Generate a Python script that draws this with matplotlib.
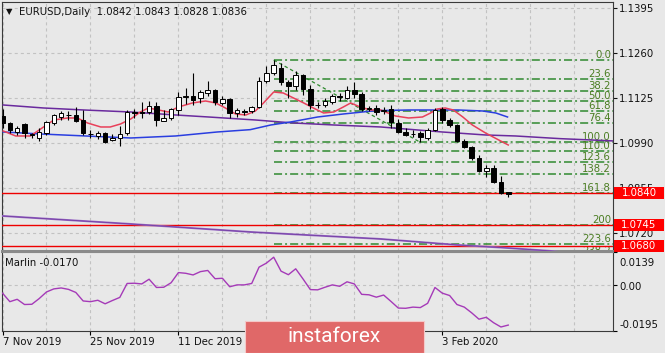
import matplotlib
matplotlib.use('Agg')
import matplotlib.pyplot as plt
import matplotlib.transforms as mtransforms
from matplotlib.patches import Rectangle
import numpy as np

plt.rcParams['font.family'] = ['DejaVu Sans']
plt.rcParams['lines.scale_dashes'] = False

# ---------------- data ----------------
symbol_title = 'EURUSD,Daily  1.0842 1.0843 1.0828 1.0836'
date_labels = ['7 Nov 2019', '25 Nov 2019', '11 Dec 2019', '3 Feb 2020']
date_label_bars = [0, 12, 24, 60]

opens = [1.1072, 1.1050, 1.1024, 1.1047, 1.1016, 1.1006, 1.1020, 1.1050, 1.1068, 1.1074,
         1.1074, 1.1059, 1.1018, 1.1011, 1.1020, 1.0999, 1.1005, 1.1020, 1.1083, 1.1082,
         1.1082, 1.1102, 1.1056, 1.1065, 1.1090, 1.1128, 1.1131, 1.1125, 1.1140, 1.1149,
         1.1110, 1.1121, 1.1080, 1.1086, 1.1086, 1.1098, 1.1175, 1.1200, 1.1215, 1.1172,
         1.1160, 1.1195, 1.1152, 1.1105, 1.1104, 1.1113, 1.1130, 1.1126, 1.1149, 1.1136,
         1.1093, 1.1095, 1.1085, 1.1093, 1.1050, 1.1023, 1.1018, 1.1020, 1.1005, 1.1029,
         1.1093, 1.1058, 1.1044, 1.0996, 1.0979, 1.0945, 1.0907, 1.0915, 1.0873, 1.0842]
highs = [1.1092, 1.1052, 1.1040, 1.1050, 1.1020, 1.1035, 1.1055, 1.1078, 1.1085, 1.1085,
         1.1097, 1.1090, 1.1030, 1.1025, 1.1024, 1.1017, 1.1040, 1.1090, 1.1092, 1.1113,
         1.1116, 1.1112, 1.1089, 1.1096, 1.1144, 1.1155, 1.1200, 1.1150, 1.1176, 1.1153,
         1.1130, 1.1124, 1.1095, 1.1093, 1.1102, 1.1188, 1.1222, 1.1239, 1.1230, 1.1178,
         1.1205, 1.1197, 1.1164, 1.1114, 1.1125, 1.1137, 1.1140, 1.1160, 1.1173, 1.1142,
         1.1100, 1.1104, 1.1098, 1.1103, 1.1061, 1.1036, 1.1028, 1.1026, 1.1036, 1.1096,
         1.1097, 1.1064, 1.1047, 1.1003, 1.0982, 1.0953, 1.0923, 1.0925, 1.0890, 1.0843]
lows = [1.1036, 1.1020, 1.1013, 1.1005, 1.1005, 1.0997, 1.1015, 1.1045, 1.1060, 1.1060,
        1.1054, 1.1014, 1.1006, 1.1003, 1.0991, 1.0995, 1.0981, 1.1015, 1.1066, 1.1065,
        1.1076, 1.1040, 1.1055, 1.1060, 1.1075, 1.1106, 1.1105, 1.1110, 1.1130, 1.1105,
        1.1103, 1.1065, 1.1068, 1.1075, 1.1080, 1.1095, 1.1170, 1.1195, 1.1164, 1.1125,
        1.1150, 1.1134, 1.1092, 1.1095, 1.1098, 1.1108, 1.1115, 1.1122, 1.1125, 1.1086,
        1.1085, 1.1074, 1.1076, 1.1036, 1.1019, 1.1010, 1.1007, 1.0992, 1.0998, 1.1025,
        1.1050, 1.1039, 1.0993, 1.0976, 1.0940, 1.0903, 1.0888, 1.0870, 1.0836, 1.0828]
closes = [1.1050, 1.1029, 1.1034, 1.1020, 1.1013, 1.1023, 1.1053, 1.1074, 1.1079, 1.1073,
          1.1057, 1.1020, 1.1016, 1.1020, 1.0993, 1.1005, 1.1017, 1.1083, 1.1081, 1.1080,
          1.1100, 1.1058, 1.1065, 1.1092, 1.1128, 1.1130, 1.1119, 1.1143, 1.1149, 1.1112,
          1.1121, 1.1080, 1.1089, 1.1084, 1.1098, 1.1177, 1.1200, 1.1225, 1.1172, 1.1160,
          1.1195, 1.1152, 1.1105, 1.1104, 1.1116, 1.1130, 1.1127, 1.1149, 1.1136, 1.1092,
          1.1095, 1.1082, 1.1090, 1.1053, 1.1023, 1.1014, 1.1016, 1.1008, 1.1029, 1.1090,
          1.1059, 1.1044, 1.0995, 1.0979, 1.0945, 1.0906, 1.0914, 1.0873, 1.0841, 1.0836]

# moving averages (bar position, price)
red_ma_x = [0.1, 1.8, 3.8, 5.6, 7.0, 8.9, 10.2, 11.6, 13.4, 14.7, 16.1, 17.5, 18.8, 19.9, 21.3,
            22.6, 24.0, 25.9, 27.7, 29.1, 30.4, 31.8, 33.2, 34.5, 35.6, 37.0, 38.3, 39.7, 41.1,
            42.4, 43.8, 45.2, 46.5, 47.5, 48.8, 50.2, 51.6, 53.6, 55.4, 57.3, 58.4, 59.3, 60.4,
            61.5, 62.8, 64.1, 65.9, 67.7, 69.0]
red_ma_y = [1.1026, 1.1011, 1.1011, 1.1038, 1.1059, 1.1065, 1.1065, 1.1050, 1.1038, 1.1038,
            1.1047, 1.1062, 1.1083, 1.1095, 1.1089, 1.1083, 1.1098, 1.1110, 1.1116, 1.1110,
            1.1095, 1.1077, 1.1074, 1.1086, 1.1110, 1.1143, 1.1140, 1.1125, 1.1110, 1.1095,
            1.1080, 1.1083, 1.1098, 1.1110, 1.1098, 1.1089, 1.1089, 1.1071, 1.1065, 1.1068,
            1.1080, 1.1092, 1.1095, 1.1089, 1.1068, 1.1044, 1.1020, 1.0999, 1.0984]
blue_ma_x = [0.1, 5.2, 17.5, 23.6, 29.3, 33.8, 36.6, 39.3, 43.0, 46.5, 50.9, 55.4, 62.2, 65.5,
             67.3, 68.9]
blue_ma_y = [1.1023, 1.1017, 1.1005, 1.1011, 1.1023, 1.1030, 1.1044, 1.1053, 1.1068, 1.1077,
             1.1087, 1.1089, 1.1089, 1.1086, 1.1080, 1.1068]
purple_ma_x = [0.1, 5.6, 11.1, 17.5, 23.6, 28.1, 34.5, 39.7, 45.2, 51.6, 60.0, 65.9, 70.0, 76.1,
               83.5]
purple_ma_y = [1.1104, 1.1095, 1.1089, 1.1083, 1.1074, 1.1068, 1.1059, 1.1050, 1.1044, 1.1038,
               1.1023, 1.1014, 1.1011, 1.1003, 1.0996]
lower_line_x = [0.0, 17.5, 33.8, 51.6, 62.1, 68.9, 74.8, 77.0]
lower_line_y = [1.0771, 1.0747, 1.0723, 1.0702, 1.0684, 1.0675, 1.0666, 1.0660]

# Fibonacci grid
fib_high, fib_low = 1.1239, 1.0992
fib_high_bar, fib_low_bar = 37, 57
fib_levels = [0.0, 23.6, 38.2, 50.0, 61.8, 76.4, 100.0, 110.0, 123.6, 138.2, 161.8, 200.0,
              223.6, 238.2]
fib_labels = ['0.0', '23.6', '38.2', '50.0', '61.8', '76.4', '100.0', '110.0', '123.6',
              '138.2', '161.8', '200', '223.6', '238.2']

support_levels = [1.0840, 1.0745, 1.0680]
price_ticks = [1.1395, 1.1260, 1.1125, 1.0990, 1.0855, 1.0720]

marlin = [-0.0035, -0.0071, -0.0061, -0.0083, -0.0082, -0.0058, -0.0030, -0.0017, -0.0013,
          -0.0019, -0.0032, -0.0068, -0.0071, -0.0065, -0.0080, -0.0066, -0.0053, 0.0006,
          0.0007, 0.0004, 0.0024, -0.0011, -0.0010, 0.0009, 0.0052, 0.0049, 0.0042, 0.0056,
          0.0061, 0.0026, 0.0028, -0.0008, 0.0000, 0.0000, 0.0006, 0.0075, 0.0092, 0.0117,
          0.0058, 0.0043, 0.0068, 0.0025, -0.0020, -0.0021, -0.0010, 0.0000, -0.0006, 0.0013,
          0.0004, -0.0040, -0.0042, -0.0052, -0.0043, -0.0070, -0.0098, -0.0099, -0.0094,
          -0.0096, -0.0078, -0.0011, -0.0035, -0.0045, -0.0083, -0.0094, -0.0118, -0.0145,
          -0.0137, -0.0160, -0.0178, -0.0170]
marlin_label = 'Marlin -0.0170'
marlin_ticks = ['0.0139', '0.00', '-0.0195']

# ---------------- figure ----------------
W, H = 665, 353
BG = '#e8e8e8'
FS = 7.3
GRID = '#c2c2c2'
FIB_C = '#2f8a2f'
FIB_T = '#4a7d22'

fig = plt.figure(figsize=(W / 100, H / 100), dpi=100, facecolor=BG)
ax = fig.add_axes([2 / W, 1 - 251 / H, 611 / W, 249 / H], facecolor=BG)
ax2 = fig.add_axes([2 / W, 1 - 331 / H, 611 / W, 79 / H], facecolor=BG)

xmin, xmax = -0.07, 83.29
ax.set_xlim(xmin, xmax)
ax.set_ylim(1.06659, 1.14130)
ax2.set_xlim(xmin, xmax)
ax2.set_ylim(-0.0195, 0.0139)

for a in (ax, ax2):
    for s in a.spines.values():
        s.set_color('#3a3a3a')
        s.set_linewidth(0.8)
ax.spines['bottom'].set_color('#8a8a8a')
ax.spines['bottom'].set_linewidth(2.2)
ax2.spines['top'].set_color('#8a8a8a')

# grid
grid_bars = np.arange(0, 84, 6)
for a in (ax, ax2):
    for gb in grid_bars:
        a.axvline(gb, color=GRID, lw=0.8, ls=(0, (2.2, 2.2)), zorder=0)
for pt in price_ticks:
    ax.axhline(pt, color=GRID, lw=0.8, ls=(0, (2.2, 2.2)), zorder=0)
ax2.axhline(0.0, color=GRID, lw=0.8, ls=(0, (2.2, 2.2)), zorder=0)

# ticks main
ax.set_xticks([])
ax.yaxis.tick_right()
ax.set_yticks(price_ticks)
ax.set_yticklabels(['%.4f' % p for p in price_ticks], fontsize=FS, color='#111111')
ax.tick_params(axis='y', direction='out', length=3, width=0.8, pad=1.3, colors='#111111')

# ticks indicator
ax2.yaxis.tick_right()
ax2.set_yticks([0.0139, 0.0, -0.0195])
ax2.set_yticklabels([])
ax2.tick_params(axis='y', direction='out', length=3, width=0.8)
ax2.set_xticks(date_label_bars)
ax2.set_xticklabels(date_labels, fontsize=FS, color='#111111')
for lbl in ax2.get_xticklabels():
    lbl.set_ha('left')
ax2.tick_params(axis='x', direction='out', length=3, width=0.8, pad=1.0)

# fibonacci
fib_range = fib_high - fib_low
blend = mtransforms.blended_transform_factory(ax.transAxes, ax.transData)
for lev, lab in zip(fib_levels, fib_labels):
    price = fib_high - fib_range * lev / 100.0
    ax.hlines(price, fib_high_bar, xmax, color=FIB_C, lw=1.1,
              linestyles=[(0, (5.8, 2.2, 1.4, 2.2))], zorder=2)
    ax.text(609 / 611, price, lab, transform=blend, ha='right', va='bottom',
            fontsize=FS, color=FIB_T, zorder=2, clip_on=True)
ax.plot([fib_high_bar, fib_low_bar], [fib_high, fib_low], color=FIB_C, lw=0.9,
        ls=(0, (2.5, 2.0)), zorder=2)

# support/resistance lines
for lvl in support_levels:
    ax.axhline(lvl, color='#ee0000', lw=1.0, zorder=3)

# moving averages
ax.plot(lower_line_x, lower_line_y, color='#9a6cc6', lw=1.4, zorder=3)
ax.plot(lower_line_x, lower_line_y, color='#5a1f8c', lw=0.6, zorder=3, alpha=0.6)
ax.plot(purple_ma_x, purple_ma_y, color='#6a2a9e', lw=1.1, zorder=5)
ax.plot(blue_ma_x, blue_ma_y, color='#2a3ee0', lw=1.1, zorder=5)
ax.plot(red_ma_x, red_ma_y, color='#e8405a', lw=1.1, zorder=6)

# candles
o = np.array(opens)
c = np.array(closes)
hi = np.array(highs)
lo = np.array(lows)
xb = np.arange(len(o))
ax.vlines(xb, lo, hi, color='black', lw=0.8, zorder=7)
bottoms = np.minimum(o, c)
heights = np.maximum(np.abs(c - o), 0.00004)
fills = ['white' if cc >= oo else 'black' for oo, cc in zip(o, c)]
ax.bar(xb, heights, bottom=bottoms, width=0.62, color=fills, edgecolor='black',
       linewidth=0.7, zorder=8)

# red price labels on axis
box_h = 0.0036
for lvl in support_levels:
    ax.add_patch(Rectangle((612 / 611, lvl - box_h / 2), 50 / 611, box_h, transform=blend,
                           facecolor='#ff0000', edgecolor='none', clip_on=False, zorder=20))
    ax.text(637 / 611, lvl, '%.4f' % lvl, transform=blend, ha='center', va='center',
            fontsize=FS, color='white', zorder=21, clip_on=False)

# indicator
ax2.plot(xb, marlin, color='#a53ab8', lw=1.0, zorder=5)
fig.text(5 / W, 1 - 263 / H, marlin_label, fontsize=FS, color='#111111', va='center')
for lab, ypx in zip(marlin_ticks, [263, 287, 325]):
    fig.text(619 / W, 1 - ypx / H, lab, fontsize=FS, color='#111111', va='center')

# title
fig.text(6 / W, 1 - 12 / H, '\u25bc', fontsize=6, color='#111111', va='center')
fig.text(19 / W, 1 - 12 / H, symbol_title, fontsize=FS, color='#111111', va='center')

# watermark
fig.add_artist(Rectangle((245 / W, 0), 179 / W, 32 / H, transform=fig.transFigure,
                         facecolor='#e06868', edgecolor='#f4c8c8', linewidth=0.8, zorder=30))
fig.text(334.5 / W, 1 - 337 / H, 'instaforex', fontsize=15, color='white', ha='center',
         va='center', family=['Roboto', 'DejaVu Sans'], zorder=31)

fig.savefig('out.png', dpi=100, facecolor=BG)
